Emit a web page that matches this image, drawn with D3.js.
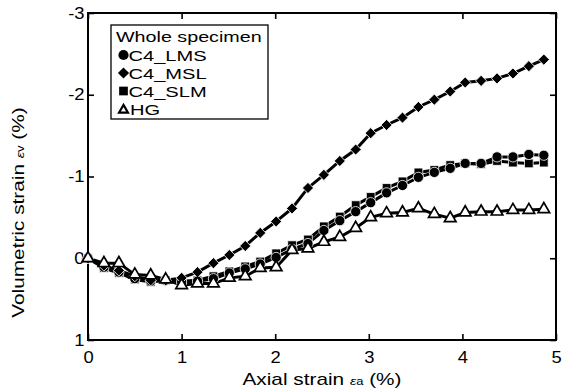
<!DOCTYPE html>
<html>
<head>
<meta charset="utf-8">
<script src="https://cdn.jsdelivr.net/npm/d3@7"></script>
<style>
  body { margin: 0; background: #fff; }
  text { font-family: Arial, "Liberation Sans", sans-serif; fill: #000; }
</style>
</head>
<body>
<div class="container"></div>
<script>
const width = 567, height = 392;

// axial strain (%) at each reading
const strain = [0, 0.17, 0.33, 0.5, 0.67, 0.83, 1.0, 1.17, 1.34, 1.51, 1.68, 1.84, 2.01, 2.18, 2.35,
  2.52, 2.69, 2.86, 3.02, 3.19, 3.36, 3.53, 3.7, 3.87, 4.03, 4.2, 4.37, 4.54, 4.71, 4.87];

// volumetric strain (%) per specimen
const lms = [0, 0.11, 0.17, 0.25, 0.28, 0.27, 0.29, 0.28, 0.25, 0.18, 0.13, 0.07, -0.01, -0.11, -0.18,
  -0.34, -0.46, -0.57, -0.68, -0.80, -0.89, -0.99, -1.05, -1.10, -1.16, -1.16, -1.24, -1.24, -1.27, -1.26];
const msl = [0, 0.09, 0.15, 0.22, 0.27, 0.27, 0.24, 0.17, 0.06, -0.04, -0.15, -0.31, -0.45, -0.61, -0.86,
  -1.02, -1.19, -1.33, -1.53, -1.63, -1.72, -1.85, -1.94, -2.04, -2.15, -2.17, -2.20, -2.26, -2.35, -2.43];
const slm = [0, 0.12, 0.18, 0.26, 0.29, 0.27, 0.28, 0.27, 0.22, 0.16, 0.10, 0.04, -0.06, -0.16, -0.23,
  -0.39, -0.51, -0.65, -0.75, -0.86, -0.94, -1.05, -1.08, -1.14, -1.16, -1.15, -1.19, -1.17, -1.16, -1.17];
const hg = [0, 0.06, 0.06, 0.20, 0.21, 0.26, 0.33, 0.31, 0.31, 0.24, 0.22, 0.12, 0.11, -0.10, -0.12,
  -0.20, -0.26, -0.37, -0.50, -0.55, -0.56, -0.61, -0.54, -0.49, -0.56, -0.57, -0.57, -0.59, -0.59, -0.60];

const seriesNames = ["C4_SLM", "C4_LMS", "C4_MSL", "HG"];
const legendOrder = ["C4_LMS", "C4_MSL", "C4_SLM", "HG"];
const xTicks = [0, 1, 2, 3, 4, 5];
const yTicks = [-3, -2, -1, 0, 1];

const seriesValues = { "C4_LMS": lms, "C4_MSL": msl, "C4_SLM": slm, "HG": hg };
const symbols = {
  "C4_LMS": { type: d3.symbolCircle, size: 82, rotate: 0, fill: "#000", stroke: "#fff", sw: 0.8 },
  "C4_MSL": { type: d3.symbolSquare, size: 62, rotate: 45, fill: "#000", stroke: "#fff", sw: 0.8 },
  "C4_SLM": { type: d3.symbolSquare, size: 76, rotate: 0, fill: "#000", stroke: "#fff", sw: 0.8 },
  "HG": { type: d3.symbolTriangle, size: 58, rotate: 0, fill: "#fff", stroke: "#000", sw: 1.7 }
};

const svg = d3.select(".container")
  .append("svg")
  .attr("width", width)
  .attr("height", height)
  .style("background-color", "#fff");

const x = d3.scaleLinear().domain([0, 5]).range([88, 556]);
const y = d3.scaleLinear().domain([-3, 1]).range([13, 340]);

const tickSx = 1.15;

// bottom axis
const gx = svg.append("g")
  .attr("transform", `translate(0,${y(1)})`)
  .call(d3.axisBottom(x).tickValues(xTicks).tickSizeInner(-6).tickSizeOuter(0).tickPadding(12).tickFormat(d => d));
// left axis
const gy = svg.append("g")
  .attr("transform", `translate(${x(0)},0)`)
  .call(d3.axisLeft(y).tickValues(yTicks).tickSizeInner(-6).tickSizeOuter(0).tickPadding(3).tickFormat(d => d));
// top and right ticks
const gt = svg.append("g")
  .attr("transform", `translate(0,${y(-3)})`)
  .call(d3.axisTop(x).tickValues(xTicks).tickSizeInner(-6).tickSizeOuter(0).tickFormat(""));
const gr = svg.append("g")
  .attr("transform", `translate(${x(5)},0)`)
  .call(d3.axisRight(y).tickValues(yTicks).tickSizeInner(-6).tickSizeOuter(0).tickFormat(""));

[gx, gy, gt, gr].forEach(g => {
  g.select(".domain").remove();
  g.selectAll(".tick line").attr("stroke", "#000").attr("stroke-width", 1.6);
  g.selectAll("text")
    .style("font-size", "16px")
    .attr("fill", "#000")
    .attr("transform", `scale(${tickSx},1)`);
});

// frame
svg.append("rect")
  .attr("x", x(0)).attr("y", y(-3))
  .attr("width", x(5) - x(0)).attr("height", y(1) - y(-3))
  .attr("fill", "none").attr("stroke", "#000").attr("stroke-width", 2);

// lines
const line = d3.line().x((d, i) => x(strain[i])).y(d => y(d));
const plot = svg.append("g");
seriesNames.forEach(name => {
  plot.append("path")
    .datum(seriesValues[name])
    .attr("d", line)
    .attr("fill", "none")
    .attr("stroke", "#000")
    .attr("stroke-width", 3);
});

// markers
seriesNames.forEach(name => {
  const s = symbols[name];
  plot.append("g")
    .selectAll("path")
    .data(seriesValues[name])
    .join("path")
    .attr("d", d3.symbol().type(s.type).size(s.size))
    .attr("transform", (d, i) => `translate(${x(strain[i])},${y(d)}) rotate(${s.rotate})`)
    .attr("fill", s.fill)
    .attr("stroke", s.stroke)
    .attr("stroke-width", s.sw);
});

// legend
const legSx = 1.34;
const leg = svg.append("g");
leg.append("rect")
  .attr("x", 111).attr("y", 25).attr("width", 157).attr("height", 94)
  .attr("fill", "#fff").attr("stroke", "#000").attr("stroke-width", 1.3);
leg.append("g").attr("transform", "translate(116,42)")
  .append("text")
  .attr("transform", `scale(1.36,1)`)
  .style("font-size", "14.5px")
  .text("Whole specimen");
legendOrder.forEach((name, i) => {
  const s = symbols[name];
  const by = 60.5 + i * 18;
  const isHG = name === "HG";
  leg.append("path")
    .attr("d", d3.symbol().type(s.type).size(isHG ? 34 : s.size))
    .attr("transform", `translate(123.5,${by - (isHG ? 4.5 : 5.5)}) rotate(${s.rotate})`)
    .attr("fill", s.fill)
    .attr("stroke", s.stroke)
    .attr("stroke-width", isHG ? 2.2 : 0);
  leg.append("g").attr("transform", `translate(${isHG ? 130 : 128.5},${by})`)
    .append("text")
    .attr("transform", `scale(${legSx},1)`)
    .style("font-size", "15px")
    .text(name);
});

// axis titles
const titleSx = 1.3;
const xt = svg.append("g").attr("transform", `translate(${(x(0) + x(5)) / 2},385)`)
  .append("text")
  .attr("text-anchor", "middle")
  .attr("transform", `scale(${titleSx},1)`)
  .style("font-size", "16px");
xt.append("tspan").text("Axial strain ");
xt.append("tspan").style("font-size", "11px").style("font-style", "italic").text("ε");
xt.append("tspan").style("font-size", "10px").text("a");
xt.append("tspan").text(" (%)");

const yt = svg.append("g").attr("transform", `translate(24,${(y(-3) + y(1)) / 2 + 36}) rotate(-90)`)
  .append("text")
  .attr("text-anchor", "middle")
  .attr("transform", `scale(${titleSx},1)`)
  .style("font-size", "16px");
yt.append("tspan").text("Volumetric strain ");
yt.append("tspan").style("font-size", "11px").style("font-style", "italic").text("ε");
yt.append("tspan").style("font-size", "10px").text("v");
yt.append("tspan").text(" (%)");
</script>
</body>
</html>
